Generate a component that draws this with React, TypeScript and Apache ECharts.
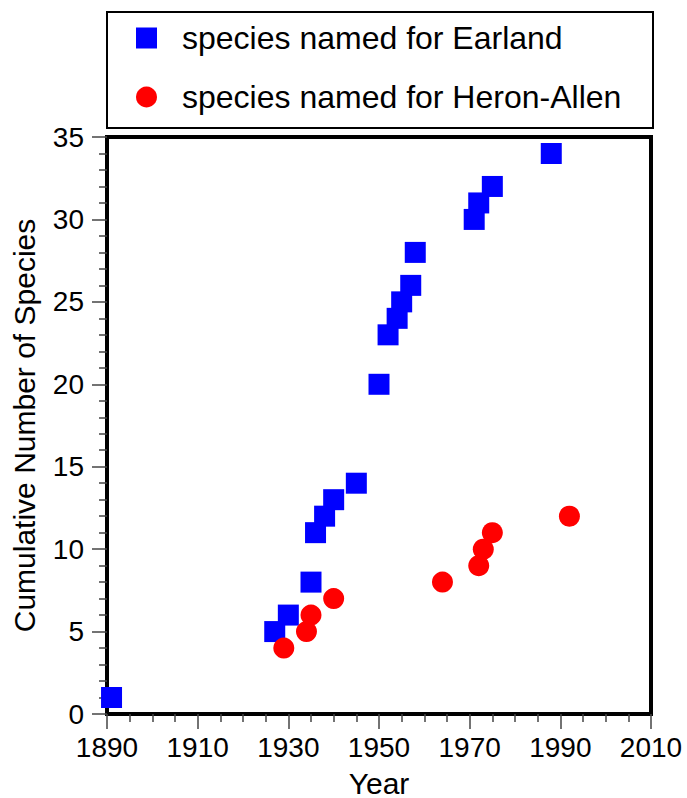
import React, { useEffect, useRef } from "react";
import * as echarts from "echarts";

const earlandYears = [1891, 1927, 1930, 1935, 1936, 1938, 1940, 1945, 1950, 1952, 1954, 1955, 1957, 1958, 1971, 1972, 1975, 1988];
const earlandCounts = [1, 5, 6, 8, 11, 12, 13, 14, 20, 23, 24, 25, 26, 28, 30, 31, 32, 34];
const heronYears = [1929, 1934, 1935, 1940, 1964, 1972, 1973, 1975, 1992];
const heronCounts = [4, 5, 6, 7, 8, 9, 10, 11, 12];
const seriesNames = ["species named for Earland", "species named for Heron-Allen"];
const xAxisTitle = "Year";
const yAxisTitle = "Cumulative Number of Species";

const FONT = "'Liberation Sans', Arial, Helvetica, sans-serif";

export default function App() {
  const ref = useRef<HTMLDivElement>(null);
  useEffect(() => {
    if (!ref.current) return;
    const chart = echarts.init(ref.current, null, { renderer: "svg" });
    const earland = earlandYears.map((y, i) => [y, earlandCounts[i]]);
    const heron = heronYears.map((y, i) => [y, heronCounts[i]]);
    chart.setOption({
      animation: false,
      textStyle: { fontFamily: FONT },
      grid: {
        left: 107,
        top: 137,
        width: 544,
        height: 577,
        show: true,
        borderColor: "#000",
        borderWidth: 4,
        backgroundColor: "transparent",
        containLabel: false,
        outerBoundsMode: "none",
      },
      graphic: [
        {
          type: "rect",
          shape: { x: 107, y: 12, width: 546, height: 116 },
          style: { fill: "transparent", stroke: "#000", lineWidth: 2 },
          z: 0,
        },
      ],
      legend: {
        orient: "vertical",
        left: 136,
        top: 21,
        padding: 0,
        itemWidth: 21,
        itemHeight: 21,
        itemGap: 25,
        selectedMode: false,
        textStyle: {
          fontFamily: FONT,
          fontSize: 32,
          lineHeight: 34,
          color: "#000",
          padding: [0, 0, 0, 20],
        },
        data: [
          { name: seriesNames[0], icon: "rect" },
          { name: seriesNames[1], icon: "circle" },
        ],
      },
      xAxis: {
        type: "value",
        min: 1890,
        max: 2010,
        interval: 20,
        name: xAxisTitle,
        nameLocation: "middle",
        nameGap: 55,
        nameTextStyle: { fontFamily: FONT, fontSize: 30, lineHeight: 28, color: "#000" },
        axisLine: { show: true, onZero: false, lineStyle: { color: "#000", width: 4 } },
        axisTick: { show: true, length: 15, lineStyle: { color: "#444", width: 1.5 } },
        minorTick: { show: true, splitNumber: 4, length: 8, lineStyle: { color: "#444", width: 1.5 } },
        axisLabel: { fontFamily: FONT, fontSize: 28, color: "#000", margin: 19, formatter: (v: number) => String(v) },
        splitLine: { show: false },
        minorSplitLine: { show: false },
      },
      yAxis: {
        type: "value",
        min: 0,
        max: 35,
        interval: 5,
        name: yAxisTitle,
        nameLocation: "middle",
        nameGap: 68,
        nameTextStyle: { fontFamily: FONT, fontSize: 30, color: "#000" },
        axisLine: { show: true, onZero: false, lineStyle: { color: "#000", width: 4 } },
        axisTick: { show: true, length: 15, lineStyle: { color: "#444", width: 1.5 } },
        minorTick: { show: true, splitNumber: 5, length: 8, lineStyle: { color: "#444", width: 1.5 } },
        axisLabel: { fontFamily: FONT, fontSize: 28, color: "#000", margin: 23 },
        splitLine: { show: false },
        minorSplitLine: { show: false },
      },
      series: [
        {
          name: seriesNames[0],
          type: "scatter",
          symbol: "rect",
          symbolSize: 21,
          clip: false,
          itemStyle: { color: "#0000ff", opacity: 1 },
          data: earland,
          z: 3,
        },
        {
          name: seriesNames[1],
          type: "scatter",
          symbol: "circle",
          symbolSize: 21,
          clip: false,
          itemStyle: { color: "#ff0000", opacity: 1 },
          data: heron,
          z: 4,
        },
      ],
    });
    return () => chart.dispose();
  }, []);
  return (
    <div
      ref={ref}
      style={{ position: "absolute", left: 0, top: 0, width: 687, height: 798, background: "#fff" }}
    />
  );
}
